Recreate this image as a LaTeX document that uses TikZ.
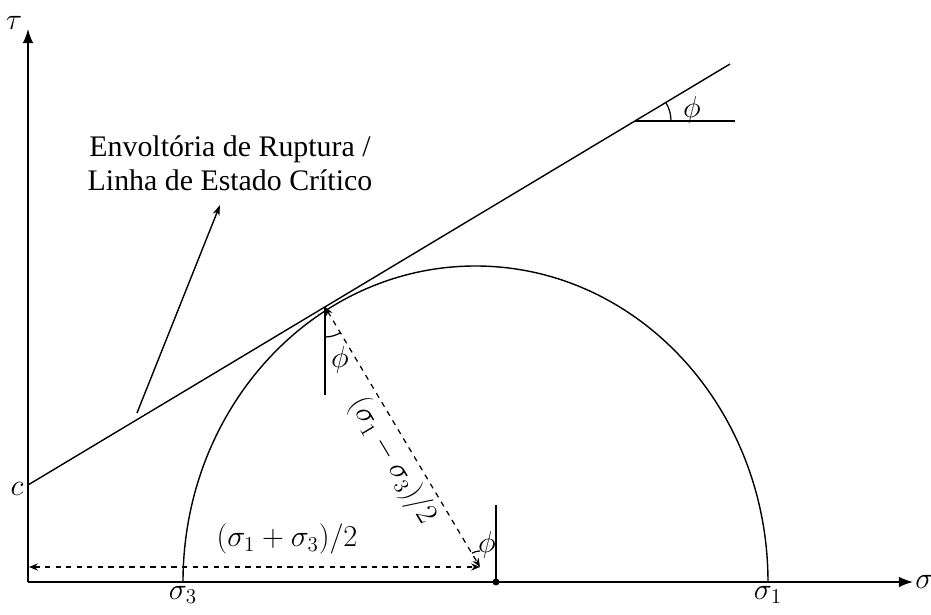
\documentclass[tikz,border=0pt]{standalone}
\usepackage{amsmath}
\usepackage{fontspec}
\setmainfont{Liberation Serif}
\usepackage{tikz}
\usetikzlibrary{arrows.meta}

\begin{document}
\begin{tikzpicture}[x=0.02cm,y=0.02cm,line width=0.8pt,
        axis/.style={-{Latex[length=8pt,width=6pt]}},
        dimline/.style={dashed,line width=0.7pt,{Stealth[length=5pt,width=4pt]}-{Stealth[length=5pt,width=4pt]}},
        lbl/.style={font=\fontsize{17}{20}\selectfont},
        angarc/.style={line width=0.7pt}]
        \useasboundingbox (0,0) rectangle (931,615);

        \coordinate (O) at (28,33);
        \coordinate (Ytip) at (28,586);
        \coordinate (Xtip) at (913,33);
        \coordinate (S3) at (183,33);
        \coordinate (S1) at (768,33);
        \coordinate (C) at (28,130);
        \coordinate (L) at (730,551);
        \coordinate (T) at (325,308);
        \coordinate (E) at (480,48);
        \coordinate (D) at (496,33);
        \coordinate (H) at (29,48);
        \coordinate (K) at (635,494);
        \coordinate (envtail) at (137,202);
        \coordinate (envhead) at (220,410);

        % axes
        \draw[axis] (O) -- (Ytip);
        \draw[axis] (O) -- (Xtip);
        \node[lbl] (tau) at (14,592) {$\tau$};
        \node[lbl,anchor=west,inner sep=1pt] (sig) at (Xtip) {$\sigma$};
        \node[lbl] (c) at (17,126) {$c$};

        % Mohr circle
        \draw (S3) arc[start angle=180,end angle=0,x radius=292.5,y radius=316];
        \node[lbl,anchor=north,inner sep=2pt] (s3) at (S3) {$\sigma_3$};
        \node[lbl,anchor=north,inner sep=2pt] (s1) at (S1) {$\sigma_1$};
        \fill (D) circle (3.5);

        % envelope
        \draw (C) -- (L);
        \draw (K) -- ++(100,0);
        \draw[angarc] (K) ++(0:36) arc[start angle=0,end angle=31,radius=36];
        \node[lbl] (phiA) at (692,505) {$\phi$};

        % label -> envelope
        \node[font=\fontsize{17}{19.5}\selectfont,align=center] (env) at (230,452)
            {Envoltória de Ruptura /\\Linha de Estado Crítico};
        \draw[-{Stealth[length=6pt,width=4pt]}] (envtail) -- (envhead);

        % radius
        \draw[dimline] (T) -- (E)
            node[lbl,pos=0.55,sloped,below,inner sep=3pt] (diff) {$(\sigma_1-\sigma_3)/2$};
        \draw (T) -- ++(0,-88);
        \draw[angarc] (T) ++(270:30) arc[start angle=270,end angle=300.8,radius=30];
        \node[lbl] (phiB) at (340,255) {$\phi$};

        % centre
        \draw[dimline] (H) -- (E);
        \node[lbl] (half) at (287,76) {$(\sigma_1+\sigma_3)/2$};
        \draw (D) -- ++(0,77);
        \draw[angarc] (E) ++(90:16) arc[start angle=90,end angle=120.8,radius=16];
        \node[lbl] (phiC) at (487,70) {$\phi$};
\end{tikzpicture}
\end{document}
